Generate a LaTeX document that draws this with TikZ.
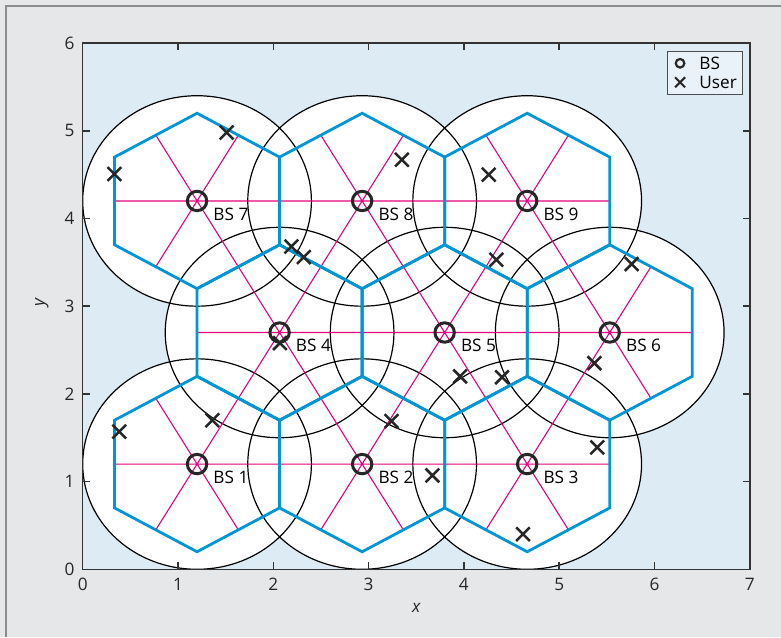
\documentclass[tikz,border=0pt]{standalone}
\usepackage{fontspec}
\setmainfont{Open Sans}
\usetikzlibrary{positioning,shapes.misc}
\definecolor{panelgray}{HTML}{E6E7E8}
\definecolor{framegray}{HTML}{8C8C8C}
\definecolor{plotblue}{HTML}{DDEBF5}
\definecolor{legfill}{HTML}{EAF2F9}
\definecolor{hexblue}{HTML}{0096D6}
\definecolor{sectpink}{HTML}{E6007E}
\definecolor{axisgray}{HTML}{333333}
\tikzset{
  cover/.style={draw=black,line width=0.6pt},
  hexedge/.style={draw=hexblue,line width=1.4pt,line join=miter},
  sector/.style={draw=sectpink,line width=0.55pt},
  bsmark/.style={circle,draw=black!85,line width=1.5pt,minimum size=9.7pt,inner sep=0pt},
  usermark/.style={cross out,draw=black!85,line width=1.25pt,minimum size=5.6pt,inner sep=0pt},
  axisline/.style={draw=axisgray,line width=0.75pt},
  ticklab/.style={inner sep=0pt,text=black!85},
}
\begin{document}
\begin{tikzpicture}[x=47.65pt,y=43.85pt,
  every node/.style={font=\fontsize{8.6}{10}\selectfont}]
  \def\h{0.866}  % sqrt(3)/2
  \def\rc{1.2}   % coverage radius
  \useasboundingbox (-41.35pt,-33.85pt) rectangle ++(390.5pt,318.5pt);
  \fill[panelgray] (-41.35pt,-33.85pt) rectangle ++(390.5pt,318.5pt);
  \draw[framegray,line width=0.75pt] (-38.35pt,-33.85pt) |- (349.15pt,281.65pt);
  \fill[plotblue] (0,0) rectangle (7,6);
  % coverage circles
  \foreach \n/\cx/\cy in {1/1.2/1.2,2/2.932/1.2,3/4.664/1.2,4/2.066/2.7,5/3.798/2.7,
                          6/5.53/2.7,7/1.2/4.2,8/2.932/4.2,9/4.664/4.2}
    \fill[white] (\cx,\cy) circle (\rc);
  \foreach \n/\cx/\cy in {1/1.2/1.2,2/2.932/1.2,3/4.664/1.2,4/2.066/2.7,5/3.798/2.7,
                          6/5.53/2.7,7/1.2/4.2,8/2.932/4.2,9/4.664/4.2}
    \draw[cover] (\cx,\cy) circle (\rc);
  % cells and sectors
  \foreach \n/\cx/\cy in {1/1.2/1.2,2/2.932/1.2,3/4.664/1.2,4/2.066/2.7,5/3.798/2.7,
                          6/5.53/2.7,7/1.2/4.2,8/2.932/4.2,9/4.664/4.2} {
    \draw[sector] (\cx,\cy) +(0:\h) -- +(180:\h) +(60:\h) -- +(240:\h)
                  +(120:\h) -- +(300:\h);
    \draw[hexedge] (\cx,\cy) +(30:1) -- +(90:1) -- +(150:1) -- +(210:1)
                   -- +(270:1) -- +(330:1) -- cycle;
  }
  % base stations
  \foreach \n/\cx/\cy in {1/1.2/1.2,2/2.932/1.2,3/4.664/1.2,4/2.066/2.7,5/3.798/2.7,
                          6/5.53/2.7,7/1.2/4.2,8/2.932/4.2,9/4.664/4.2} {
    \node[bsmark] (bs\n) at (\cx,\cy) {};
    \node[anchor=west,inner sep=0pt] (lab\n) at ([xshift=8pt,yshift=-6.5pt]bs\n.center) {BS \n};
  }
  % users
  \foreach \k/\ux/\uy in {1/0.332/4.507,2/1.51/4.98,3/3.35/4.67,4/4.26/4.50,5/4.34/3.53,
                          6/5.76/3.48,7/5.37/2.35,8/0.384/1.57,9/1.36/1.70,10/3.24/1.69,
                          11/3.67/1.07,12/5.40/1.39,13/4.62/0.40,14/2.19/3.68,15/2.32/3.56,
                          16/2.07/2.58,17/3.96/2.20,18/4.40/2.19}
    \node[usermark] (u\k) at (\ux,\uy) {};
  % axes
  \draw[axisline] (0,0) rectangle (7,6);
  \foreach \t in {0,...,7} {
    \draw[axisline] (\t,0) -- ++(0,3.5pt) (\t,6) -- ++(0,-3.5pt);
    \node[ticklab,anchor=north,yshift=-4.3pt] (xt\t) at (\t,0) {\t};
  }
  \foreach \t in {0,...,6} {
    \draw[axisline] (0,\t) -- ++(3.5pt,0) (7,\t) -- ++(-3.5pt,0);
    \node[ticklab,anchor=east,xshift=-3.9pt] (yt\t) at (0,\t) {\t};
  }
  \node[ticklab] (xlab) at (3.5,-0.44) {\itshape x};
  \node[ticklab,rotate=90] (ylab) at (-0.43,3.04) {\itshape y};
  % legend
  \node[draw=black!70,fill=legfill,line width=0.5pt,minimum width=37.5pt,
        minimum height=21.3pt,inner sep=0pt] (leg) at (6.532,5.659) {};
  \node[bsmark,minimum size=4.3pt,line width=1.1pt] (legbs) at (6.268,5.77) {};
  \node[usermark,minimum size=4pt,line width=1pt] (legu) at (6.268,5.553) {};
  \node[anchor=west,inner sep=0pt] (legbst) at (6.467,5.77) {BS};
  \node[anchor=west,inner sep=0pt] (legut) at (6.467,5.553) {User};
\end{tikzpicture}
\end{document}
